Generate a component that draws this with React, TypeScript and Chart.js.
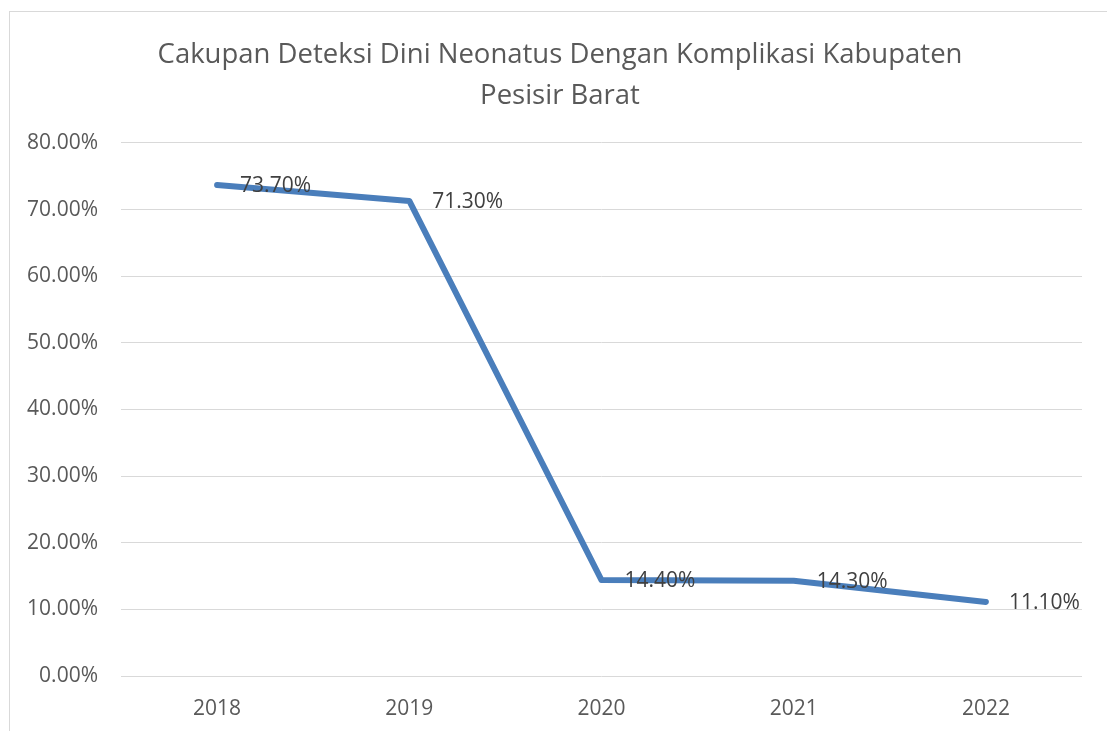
import React, { useEffect, useRef } from "react";
import { Chart, registerables } from "chart.js";

Chart.register(...registerables);

const titleLines = ["Cakupan Deteksi Dini Neonatus Dengan Komplikasi Kabupaten", "Pesisir Barat"];
const years = ["2018", "2019", "2020", "2021", "2022"];
const coverage = [73.7, 71.3, 14.4, 14.3, 11.1];
const yTicks = [0, 10, 20, 30, 40, 50, 60, 70, 80];

const FONT = "'Open Sans', 'Noto Sans', sans-serif";

const labelPlugin = {
  id: "pointLabels",
  afterDatasetsDraw(chart: any) {
    const ctx = chart.ctx;
    const meta = chart.getDatasetMeta(0);
    ctx.save();
    ctx.font = `21px ${FONT}`;
    ctx.fillStyle = "#404040";
    ctx.textAlign = "left";
    ctx.textBaseline = "middle";
    meta.data.forEach((pt: any, i: number) => {
      const v = chart.data.datasets[0].data[i] as number;
      ctx.fillText(v.toFixed(2) + "%", pt.x + 23, pt.y + 1);
    });
    ctx.restore();
  },
};

export default function App() {
  const ref = useRef<HTMLCanvasElement>(null);
  useEffect(() => {
    if (!ref.current) return;
    const chart = new Chart(ref.current, {
      type: "line",
      data: {
        labels: years,
        datasets: [
          {
            data: coverage,
            borderColor: "#4A7EBB",
            backgroundColor: "#4A7EBB",
            borderWidth: 6,
            borderCapStyle: "round",
            borderJoinStyle: "round",
            pointRadius: 0,
            tension: 0,
            yAxisID: "y",
          },
        ],
      },
      options: {
        responsive: false,
        animation: false,
        layout: { padding: { left: 13, right: 0, top: 0, bottom: 0 } },
        plugins: {
          legend: { display: false },
          tooltip: { enabled: false },
          title: {
            display: true,
            text: titleLines,
            color: "#595959",
            font: { family: FONT, size: 27.5, weight: "normal", lineHeight: 1.49 },
            padding: { top: 35, bottom: 26 },
          },
        },
        scales: {
          x: {
            offset: true,
            grid: { display: false, drawTicks: false },
            border: { display: false },
            ticks: { color: "#595959", font: { family: FONT, size: 21 }, padding: 20 },
            afterFit(scale: any) {
              scale.height = 55;
            },
          },
          y: {
            min: 0,
            max: 80,
            afterBuildTicks(scale: any) {
              scale.ticks = yTicks.map((v) => ({ value: v }));
            },
            grid: { color: "#D9D9D9", lineWidth: 1, drawTicks: false },
            border: { display: false },
            ticks: {
              color: "#595959",
              font: { family: FONT, size: 21 },
              padding: 23,
              callback: (v: any) => Number(v).toFixed(2) + "%",
            },
            afterFit(scale: any) {
              scale.width = 108;
            },
          },
          yRight: {
            position: "right",
            min: 0,
            max: 80,
            grid: { display: false, drawTicks: false },
            border: { display: false },
            ticks: { display: false },
            afterFit(scale: any) {
              scale.width = 25;
            },
          },
        },
      },
      plugins: [labelPlugin],
    });
    return () => chart.destroy();
  }, []);
  return (
    <div style={{ position: "fixed", left: 0, top: 0, width: 1107, height: 731, background: "#fff", overflow: "hidden" }}>
      <div
        style={{
          position: "absolute",
          left: 9,
          top: 11,
          width: 1200,
          height: 800,
          border: "1px solid #D9D9D9",
        }}
      />
      <canvas ref={ref} width={1107} height={731} style={{ position: "absolute", left: 0, top: 0 }} />
    </div>
  );
}
